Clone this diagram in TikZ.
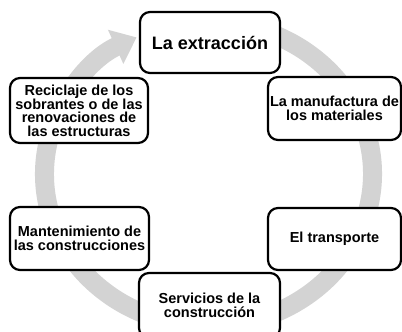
\documentclass[tikz,border=0pt]{standalone}
\usepackage{fontspec}
\setmainfont{Liberation Sans}
\usetikzlibrary{math,arrows.meta}
\definecolor{ringgray}{RGB}{211,211,211}

\begin{document}
\begin{tikzpicture}
			[x=1pt,y=1pt,>={Triangle[width=36pt,length=23pt]},
			stage/.style={draw,line width=2.2pt,rounded corners=10pt,fill=white,align=center,inner sep=1pt,font=\bfseries\fontsize{14.5}{13.4}\selectfont},
			ring/.style={ringgray,line width=19pt},]
			\tikzmath{\cx=208.5; \cy=-174; \rx=164; \ry=152; \ta=80; \tb=-244; }
			\useasboundingbox (0,0) rectangle (402,-332);
			\draw[ring,->] ({\cx+\rx*cos(\ta)},{\cy+\ry*sin(\ta)}) arc[start angle=\ta,end angle=\tb,x radius=\rx,y radius=\ry];
			\node (ext) at (210,-42.5)[stage,minimum width=140pt,minimum height=61pt,font=\bfseries\fontsize{18}{20}\selectfont] {La extracción};
			\node (man) at (334.5,-108.5)[stage,minimum width=133pt,minimum height=63pt] {La manufactura de\\los materiales};
			\node (tra) at (334.5,-239)[stage,minimum width=133pt,minimum height=62pt] {El transporte};
			\node (ser) at (209.5,-305.5)[stage,minimum width=141pt,minimum height=65pt] {Servicios de la\\construcción};
			\node (man2) at (79.5,-238.5)[stage,minimum width=139pt,minimum height=63pt] {Mantenimiento de\\las construcciones};
			\node (rec) at (79,-110.5)[stage,minimum width=138pt,minimum height=65pt] {Reciclaje de los\\sobrantes o de las\\renovaciones de\\las estructuras};
			
	\end{tikzpicture}
\end{document}
